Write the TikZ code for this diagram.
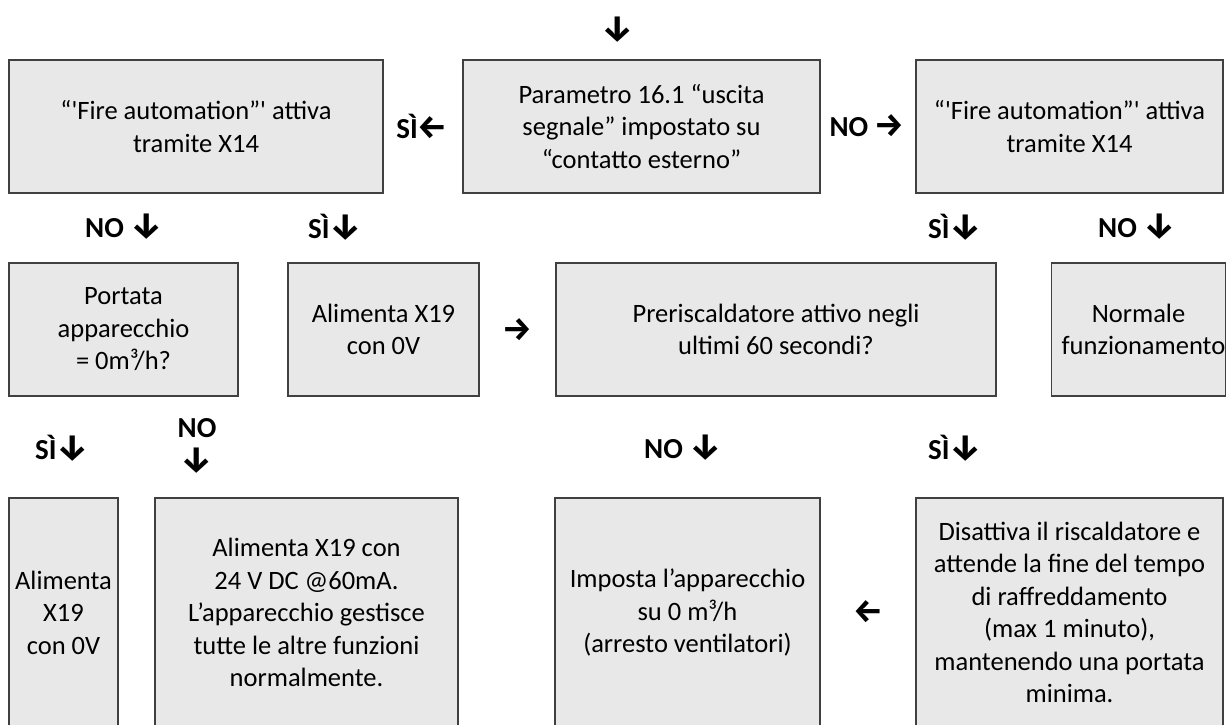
\documentclass[tikz,border=0pt]{standalone}
\usepackage{fontspec}
\setmainfont{Carlito}[Ligatures=TeXOff]
\newfontfamily\arrowfont{Fira Sans}
\definecolor{boxfill}{HTML}{E8E8E8}
\definecolor{boxline}{HTML}{404040}
\newcommand{\arrdown}{{\arrowfont\bfseries\fontsize{36}{36}\selectfont ↓}}
\newcommand{\arrleft}{{\arrowfont\bfseries\fontsize{33}{33}\selectfont ←}}
\newcommand{\arrright}{{\arrowfont\bfseries\fontsize{33}{33}\selectfont →}}
\tikzset{
  box/.style={draw=boxline, fill=boxfill, line width=1.5pt, inner sep=0pt,
    align=center, font=\fontsize{26.5}{32.5}\selectfont},
  lbl/.style={inner sep=0pt, align=center,
    font=\fontsize{29}{34}\selectfont\bfseries},
}

\begin{document}
\begin{tikzpicture}[x=1pt, y=-1pt]
\useasboundingbox (0,0) rectangle (1229,724);
\clip (0,0) rectangle (1229,724);

% first row
\node[lbl] (start) at (618,30) {\arrdown};
\node[box, minimum width=374, minimum height=133] (fireL) at (196,126.5)
  {“'Fire automation”' attiva\\tramite X14};
\node[box, minimum width=357, minimum height=133] (param) at (641.5,126.5)
  {Parametro 16.1 “uscita\\segnale” impostato su\\“contatto esterno”};
\node[box, minimum width=307, minimum height=133] (fireR) at (1069.5,126.5)
  {“'Fire automation”' attiva\\tramite X14};
\node[lbl] (siA) at (422,126) {SÌ\arrleft};
\node[lbl] (noA) at (867,126) {NO \arrright};

% second row
\node[lbl] (noB) at (124,227) {NO \arrdown};
\node[lbl] (siB) at (335,227) {SÌ\arrdown};
\node[lbl] (siC) at (955,227) {SÌ\arrdown};
\node[lbl] (noC) at (1137,227) {NO \arrdown};

\node[box, minimum width=229, minimum height=133] (portata) at (123.5,329.5)
  {Portata\\apparecchio\\= 0m³/h?};
\node[box, minimum width=191, minimum height=133] (zeroA) at (383.5,329.5)
  {Alimenta X19\\con 0V};
\node[box, minimum width=440, minimum height=133] (preris) at (776,329.5)
  {Preriscaldatore attivo negli\\ultimi 60 secondi?};
\node[box, minimum width=167, minimum height=133] (normale) at (1138.5,329.5)
  {Normale\\\hspace*{10pt}funzionamento};
\node[lbl] (toPreris) at (517,330) {\arrright};

% third row
\node[lbl] (siD) at (62,448) {SÌ\arrdown};
\node[lbl] (noD) at (197,446) {NO\\\arrdown};
\node[lbl] (noE) at (683,448) {NO \arrdown};
\node[lbl] (siE) at (955,448) {SÌ\arrdown};

\node[box, minimum width=109, minimum height=229] (zeroB) at (63.5,612.5)
  {Alimenta\\X19\\con 0V};
\node[box, minimum width=303, minimum height=229] (feed) at (306.5,612.5)
  {Alimenta X19 con\\24 V DC @60mA.\\L’apparecchio gestisce\\tutte le altre funzioni\\normalmente.};
\node[box, minimum width=265, minimum height=229] (stop) at (687.5,612.5)
  {Imposta l’apparecchio\\su 0 m³/h\\(arresto ventilatori)};
\node[box, minimum width=307, minimum height=229] (cool) at (1069.5,612.5)
  {Disattiva il riscaldatore e\\attende la fine del tempo\\di raffreddamento\\(max 1 minuto),\\mantenendo una portata\\minima.};
\node[lbl] (toStop) at (868,612) {\arrleft};
\end{tikzpicture}
\end{document}
